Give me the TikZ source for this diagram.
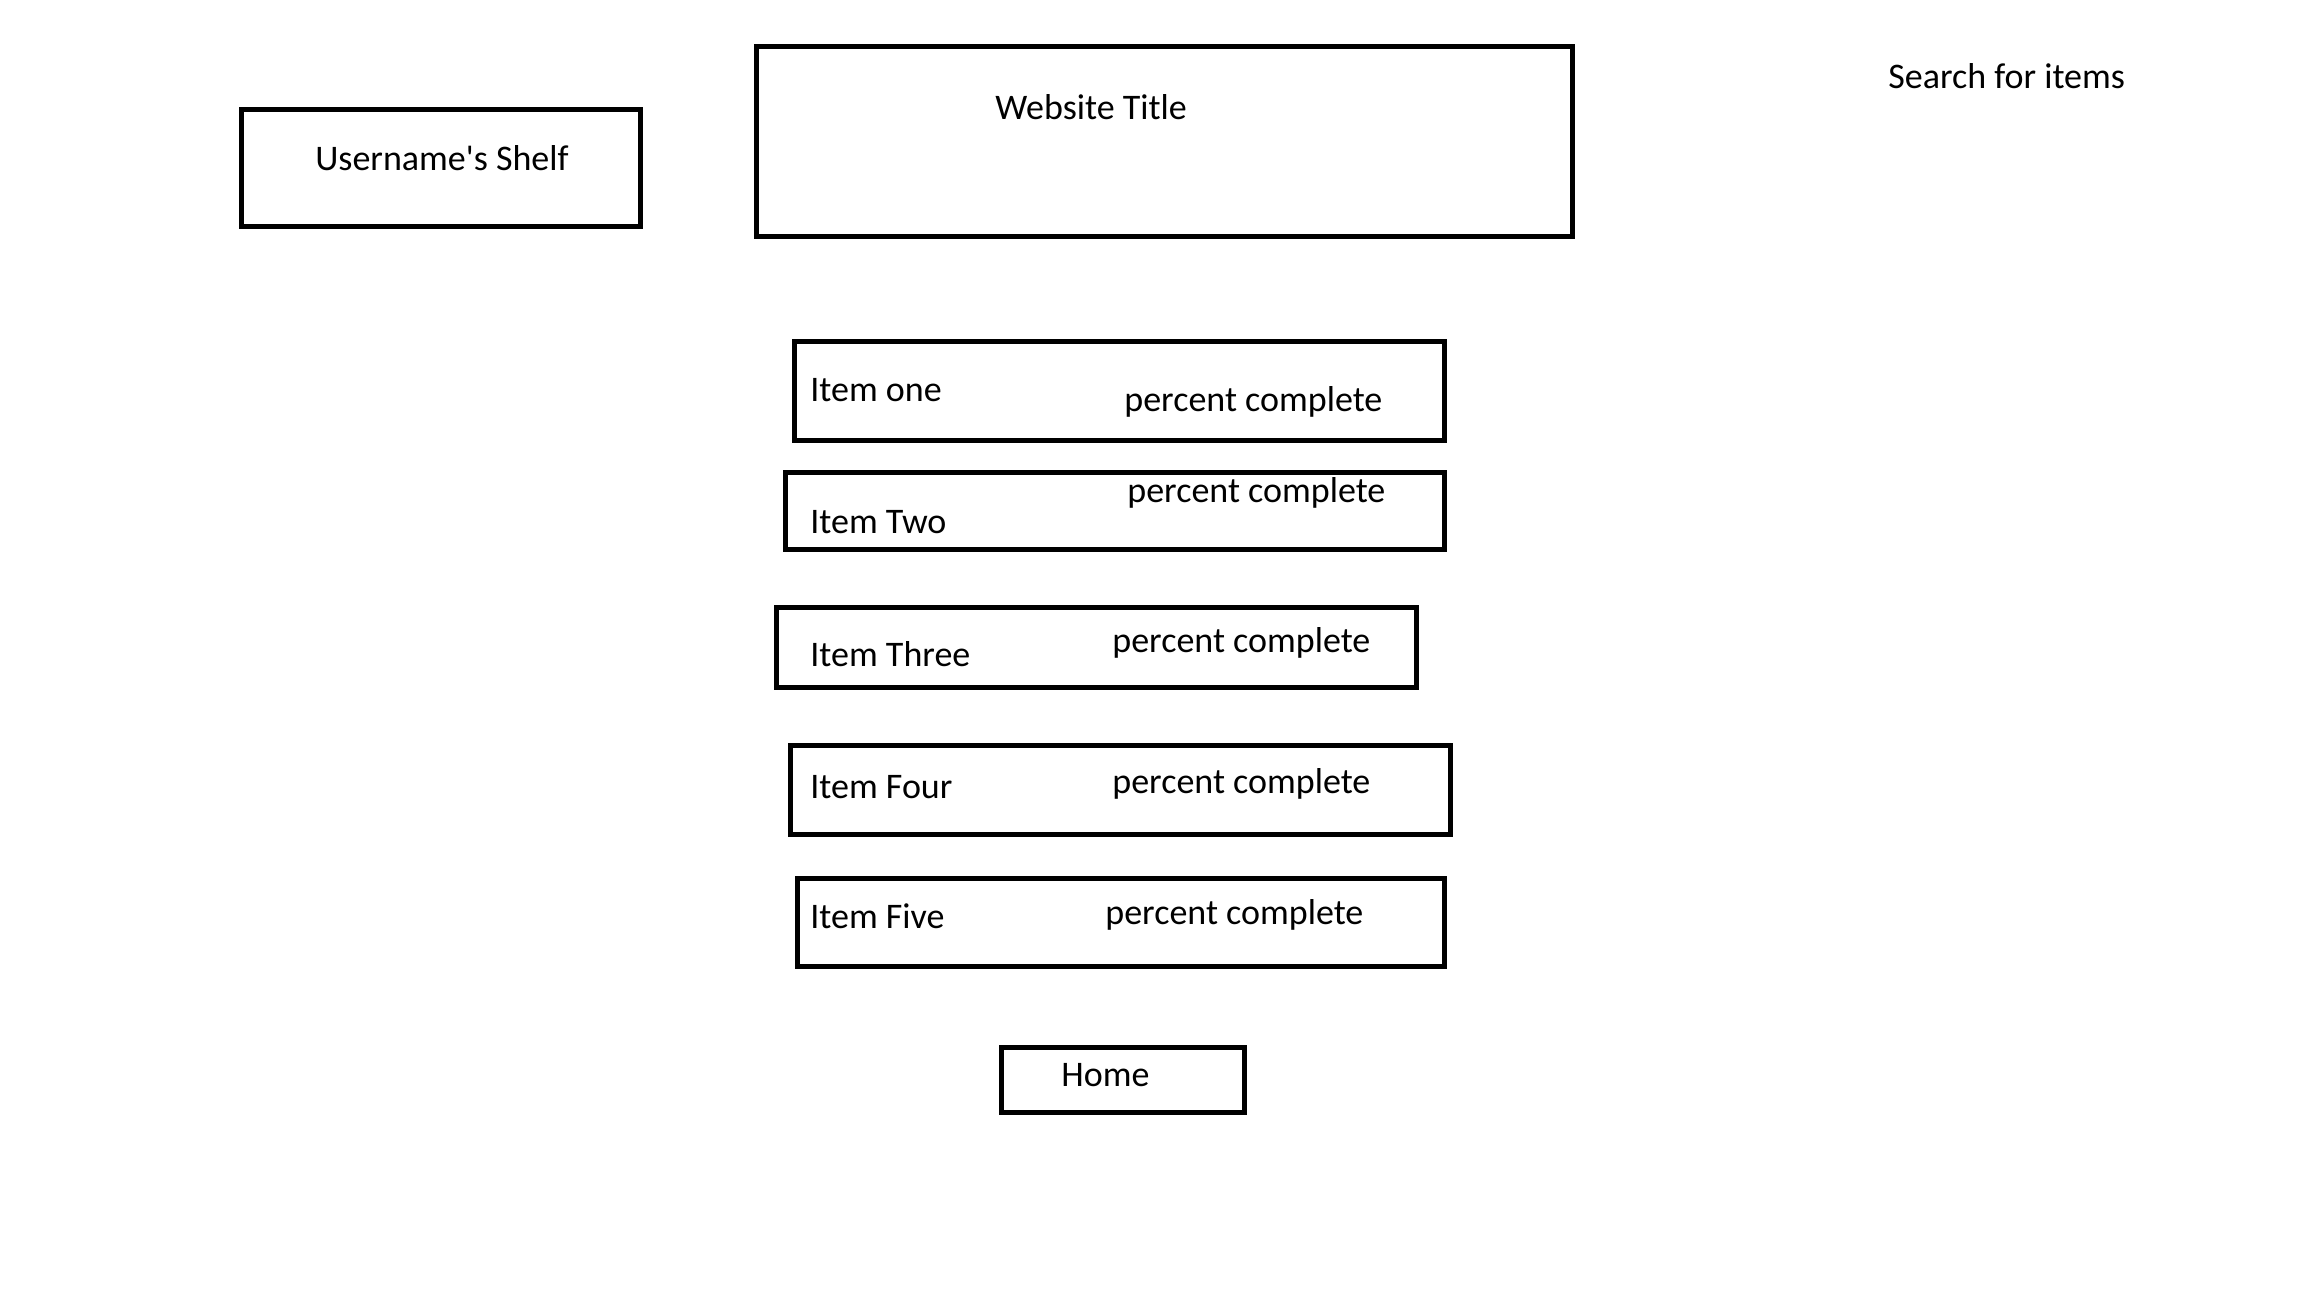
\documentclass[tikz,border=0pt]{standalone}
\usepackage{fontspec}
\setmainfont{Carlito}[Ligatures=TeXOff]
\begin{document}
\begin{tikzpicture}[x=0.5pt,y=-0.5pt,
  box/.style={draw=black,line width=2.5pt,rectangle,inner sep=0pt,fill=none},
  lbl/.style={inner sep=0pt,font=\fontsize{18pt}{21pt}\selectfont,anchor=base west}]
\useasboundingbox[fill=white] (0,0) rectangle (2304,1296);
% boxes
\node[box,minimum width=199.25pt,minimum height=58.5pt] (user) at (441,167.5) {};
\node[box,minimum width=408pt,minimum height=95pt] (web) at (1164,141) {};
\node[box,minimum width=325pt,minimum height=49.5pt] (i1) at (1119,390.5) {};
\node[box,minimum width=329.5pt,minimum height=38.5pt] (i2) at (1114.5,510.5) {};
\node[box,minimum width=320pt,minimum height=40pt] (i3) at (1096,647) {};
\node[box,minimum width=330pt,minimum height=44.25pt] (i4) at (1120,789.75) {};
\node[box,minimum width=323.5pt,minimum height=44pt] (i5) at (1120.5,922) {};
\node[box,minimum width=121.5pt,minimum height=32.5pt] (home) at (1122.5,1079.5) {};
% texts
\node[lbl,anchor=base] (usert) at (442,170) {Username's Shelf};
\node[lbl] (webt) at (995,119) {Website Title};
\node[lbl] (search) at (1888,88) {Search for items};
\node[lbl] (i1t) at (810,401) {Item one};
\node[lbl] (i1p) at (1124,411) {percent complete};
\node[lbl] (i2t) at (810,533) {Item Two};
\node[lbl] (i2p) at (1127,502) {percent complete};
\node[lbl] (i3t) at (810,666) {Item Three};
\node[lbl] (i3p) at (1112,652) {percent complete};
\node[lbl] (i4t) at (810,798) {Item Four};
\node[lbl] (i4p) at (1112,793.5) {percent complete};
\node[lbl] (i5t) at (810,928.7) {Item Five};
\node[lbl] (i5p) at (1105,924) {percent complete};
\node[lbl] (homet) at (1061,1086) {Home};
\end{tikzpicture}
\end{document}
